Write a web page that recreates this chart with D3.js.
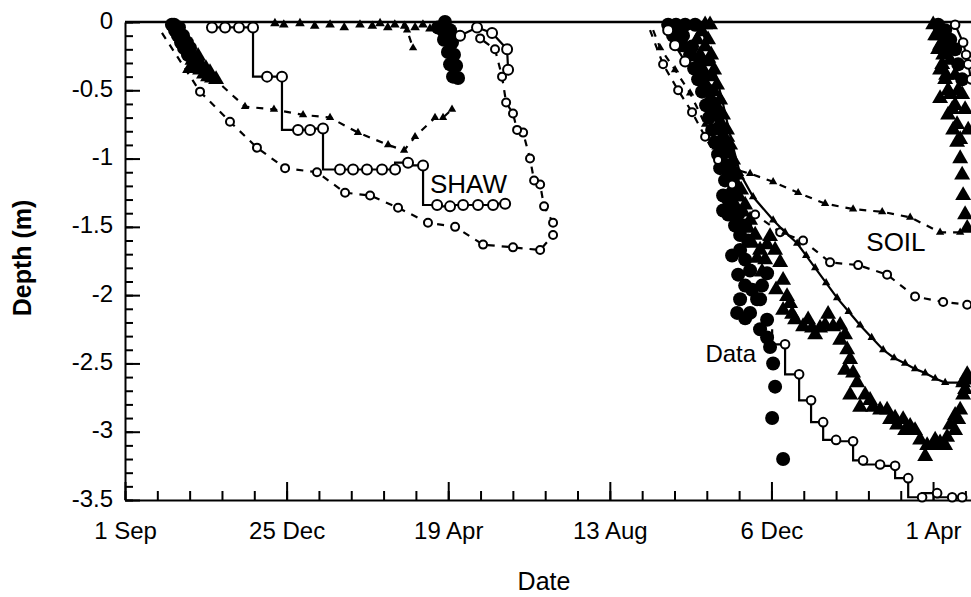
<!DOCTYPE html>
<html><head><meta charset="utf-8">
<script src="https://cdn.jsdelivr.net/npm/d3@7"></script>
<style>body{margin:0;background:#fff} svg{display:block} text{font-family:Arial,"Liberation Sans",sans-serif;fill:#000}</style>
</head><body><svg id="c" width="971" height="597"></svg>
<script>
// ---- axis ticks (x in days since 1 Sep, y depth in m) ----
const xTickDays = [0, 115, 230, 345, 460, 575];
const xTickLabels = ["1 Sep", "25 Dec", "19 Apr", "13 Aug", "6 Dec", "1 Apr"];
const yTickValues = [0, -0.5, -1, -1.5, -2, -2.5, -3, -3.5];
const yTickLabels = ["0", "-0.5", "-1", "-1.5", "-2", "-2.5", "-3", "-3.5"];

// ---- SHAW model (solid line, open circles) ----
const shawFreeze1 = [[61.9,-0.04],[71.2,-0.04],[81.1,-0.04],[91.1,-0.04],[101.1,-0.40],[111.7,-0.40],[123.1,-0.79],[131.7,-0.79],[140.9,-0.78],[153.0,-1.08],[162.3,-1.08],[172.2,-1.08],[182.9,-1.08],[192.2,-1.08],[201.4,-1.03],[212.1,-1.05],[222.1,-1.34],[231.3,-1.35],[240.6,-1.34],[251.2,-1.34],[261.9,-1.34],[270.5,-1.33]];
const shawThaw1 = [[225.0,-0.08],[238.4,-0.10],[250.5,-0.04],[261.2,-0.08],[271.9,-0.20],[272.6,-0.35]];
const shawThaw2a = [[382.9,-0.02],[386.5,-0.06],[391.4,-0.17],[398.6,-0.29]];
const shawStep2 = [[460.5,-2.25],[469.7,-2.36],[479.7,-2.58],[488.2,-2.77],[496.8,-2.93],[506.0,-3.06],[518.1,-3.07],[525.2,-3.21],[537.3,-3.24],[548.0,-3.25],[557.3,-3.34],[567.2,-3.48],[577.9,-3.45],[588.6,-3.48],[595.7,-3.48]];
const shawThaw2b = [[590.7,-0.02],[596.4,-0.15],[598.5,-0.24],[600.0,-0.31],[602.1,-0.42]];
// ---- SHAW model second site (solid line, small triangles) ----
const shawTri2 = [[409.2,-0.02],[417.8,-0.28],[424.9,-0.57],[431.3,-0.86],[437.7,-1.11],[446.9,-1.28],[461.2,-1.45],[469.7,-1.54],[478.3,-1.62],[484.7,-1.71],[491.1,-1.80],[498.9,-1.91],[506.7,-2.02],[514.9,-2.12],[523.1,-2.22],[531.3,-2.31],[539.5,-2.40],[547.3,-2.46],[555.1,-2.50],[562.2,-2.54],[569.4,-2.57],[576.5,-2.61],[583.6,-2.64],[594.3,-2.64],[601.4,-2.61]];

// ---- SOIL model (dashed line) ----
const soilCirc1 = [[26.3,-0.08],[53.4,-0.51],[74.7,-0.73],[93.9,-0.92],[113.9,-1.07],[136.6,-1.10],[156.6,-1.25],[174.4,-1.27],[194.3,-1.36],[215.6,-1.47],[234.9,-1.50],[254.8,-1.63],[276.1,-1.65],[295.4,-1.67],[304.6,-1.56],[304.6,-1.47],[298.2,-1.35],[295.4,-1.19],[291.1,-1.16],[288.2,-1.00],[283.3,-0.81],[279.0,-0.79],[276.1,-0.67],[271.2,-0.59],[268.3,-0.40],[263.3,-0.20],[252.7,-0.12]];
const soilTri1 = [[61.9,-0.40],[85.4,-0.62],[106.0,-0.64],[126.7,-0.68],[145.9,-0.70],[165.8,-0.81],[187.2,-0.90],[198.6,-0.94],[206.4,-0.84],[220.6,-0.70],[226.3,-0.70],[232.7,-0.64]];
const soilTriThaw1 = [[197.8,-0.01],[200.7,-0.06],[205.0,-0.19]];
const soilCirc2 = [[373.6,-0.06],[382.9,-0.31],[393.6,-0.50],[403.5,-0.66],[412.8,-0.84],[422.0,-1.01],[432.0,-1.19],[448.4,-1.41],[466.2,-1.54],[482.5,-1.60],[501.7,-1.76],[521.7,-1.78],[542.3,-1.85],[562.2,-2.01],[582.2,-2.05],[599.3,-2.07]];
const soilTri2 = [[375.8,-0.06],[380.8,-0.19],[391.4,-0.35],[402.1,-0.52],[412.8,-0.75],[421.3,-0.94],[434.1,-1.08],[444.8,-1.11],[461.2,-1.17],[479.0,-1.25],[498.2,-1.33],[518.1,-1.37],[538.8,-1.39],[558.7,-1.43],[580.0,-1.54],[594.3,-1.54]];

// ---- measured data (filled symbols) ----
const dataCirc = [
 [33.4,-0.02],[34.9,-0.02],[35.6,-0.06],[38.4,-0.04],[37.7,-0.10],[41.3,-0.10],[39.9,-0.15],[44.1,-0.15],[42.0,-0.19],[46.3,-0.19],[44.8,-0.24],[47.7,-0.26],[49.8,-0.29],
 [227.7,0],[222.8,-0.04],[226.3,-0.06],[231.3,-0.06],[227.0,-0.13],[232.7,-0.15],[229.8,-0.22],[234.1,-0.24],[231.3,-0.31],[235.6,-0.32],[233.4,-0.40],[237.0,-0.41],
 [386.5,-0.02],[392.1,-0.02],[398.6,-0.02],[405.7,-0.02],[390.0,-0.10],[397.1,-0.10],[396.4,-0.17],[403.5,-0.18],[402.1,-0.24],[409.2,-0.28],[405.0,-0.34],[411.4,-0.39],[407.8,-0.42],[414.9,-0.50],[410.6,-0.51],[417.8,-0.59],[413.5,-0.61],[420.6,-0.68],[415.6,-0.70],[423.5,-0.78],[417.8,-0.79],[425.6,-0.86],[419.9,-0.88],[428.4,-0.95],[422.0,-0.97],[430.6,-1.05],[423.5,-1.07],[432.7,-1.14],[427.0,-1.16],[434.1,-1.23],[425.6,-1.27],[429.2,-1.30],[430.6,-1.34],[425.6,-1.38],[429.2,-1.41],[436.3,-1.41],[434.1,-1.49],[441.3,-1.49],[437.7,-1.56],[443.4,-1.60],[437.7,-1.67],[432.0,-1.71],[441.3,-1.74],[444.8,-1.82],[436.3,-1.85],[456.9,-1.84],[441.3,-1.93],[453.3,-1.93],[446.2,-1.96],[449.8,-2.03],[437.7,-2.03],[451.9,-2.03],[435.6,-2.13],[444.8,-2.13],[441.3,-2.17],[456.9,-2.18],[451.9,-2.25],[456.9,-2.31],[459.0,-2.38],[461.2,-2.50],[462.6,-2.67],[460.5,-2.90],[468.3,-3.20],
 [578.6,-0.02],[583.6,-0.06],[587.2,-0.13],[583.6,-0.20],[585.7,-0.13],[590.7,-0.20],[592.9,-0.31],[595.7,-0.42]
];
const dataTriSurface = [[106.7,-0.01],[113.0,-0.02],[124.5,-0.01],[135.0,-0.03],[145.9,-0.02],[156.0,-0.04],[167.2,-0.02],[176.0,-0.03],[181.5,-0.01],[187.0,-0.04],[192.0,-0.02],[199.0,-0.03],[206.4,-0.04],[212.0,-0.02],[217.0,-0.05],[222.0,-0.03]];
const dataTri = [
 [50.5,-0.32],[53.4,-0.35],[56.2,-0.38],[59.1,-0.40],[61.9,-0.41],[64.8,-0.42],[54.1,-0.31],[57.6,-0.34],[60.5,-0.37],[46.3,-0.34],[48.0,-0.28],[52.0,-0.25],
 [412.8,-0.02],[416.3,-0.02],[407.1,-0.13],[414.9,-0.13],[409.2,-0.24],[417.1,-0.24],[411.4,-0.35],[419.2,-0.35],[413.5,-0.46],[421.3,-0.46],[415.6,-0.57],[423.5,-0.57],[417.8,-0.68],[425.6,-0.68],[420.6,-0.79],[428.4,-0.79],[422.8,-0.90],[430.6,-0.90],[425.6,-1.01],[432.7,-1.01],[428.4,-1.12],[435.6,-1.12],[431.3,-1.23],[438.4,-1.23],[434.1,-1.34],[441.3,-1.34],[444.8,-1.45],[448.4,-1.56],[451.9,-1.67],
 [410.6,-0.07],[412.8,-0.18],[414.9,-0.29],[417.1,-0.40],[419.2,-0.51],[421.3,-0.62],[423.5,-0.73],[426.3,-0.84],[428.4,-0.95],[431.3,-1.06],[434.1,-1.17],[436.9,-1.28],[439.8,-1.39],[443.4,-1.51],[446.2,-1.62],[449.8,-1.73],[453.3,-1.83],[456.9,-1.63],[455.5,-1.74],
 [459.0,-1.57],[462.6,-1.67],[466.2,-1.76],[468.3,-1.89],[463.3,-1.96],[471.1,-2.01],[473.3,-2.06],[468.3,-2.11],[474.7,-2.14],[476.8,-2.18],[482.5,-2.23],[486.1,-2.18],[488.9,-2.24],[491.1,-2.29],[494.6,-2.24],[498.2,-2.22],[503.9,-2.23],[500.3,-2.14],[508.9,-2.22],[508.9,-2.33],[512.4,-2.29],[513.9,-2.40],[516.0,-2.47],[512.4,-2.55],[518.1,-2.57],[521.0,-2.64],[516.0,-2.73],[526.7,-2.73],[530.2,-2.77],[523.1,-2.82],[532.3,-2.82],[537.3,-2.84],[542.3,-2.84],[544.4,-2.91],[548.0,-2.90],[549.4,-2.95],[553.7,-2.91],[555.1,-2.99],[558.7,-2.96],[562.2,-2.99],[565.8,-3.06],[569.4,-3.18],[570.8,-3.10],[575.1,-3.10],[576.5,-3.06],[580.0,-3.08],[583.6,-3.10],[585.0,-3.04],[587.2,-2.95],[590.7,-2.99],[590.7,-2.88],[592.9,-2.91],[594.3,-2.84],[596.4,-2.73],[597.8,-2.69],[596.4,-2.64],[600.0,-2.62],[599.3,-2.58],
 [575.1,-0.02],[577.9,-0.10],[576.5,-0.10],[580.0,-0.17],[578.6,-0.20],[582.2,-0.24],[581.5,-0.31],[580.0,-0.35],[584.3,-0.39],[583.6,-0.42],[580.0,-0.56],[585.7,-0.50],[587.2,-0.53],[585.7,-0.68],[588.6,-0.64],[590.7,-0.61],[592.9,-0.50],[589.3,-0.79],[592.1,-0.75],[592.1,-0.88],[594.3,-0.86],[594.3,-1.00],[595.7,-1.12],[596.4,-1.27],[597.8,-1.41],[599.3,-1.51],[587.2,-0.28],[590.7,-0.39],[595.7,-0.53],[597.8,-0.64],[600.0,-0.79]
];

// ---- annotations (data coordinates) ----
const labels = [
  {text: "SHAW", day: 217, depth: -1.25},
  {text: "SOIL", day: 527.5, depth: -1.68},
  {text: "Data", day: 413, depth: -2.49}
];

// ================= drawing =================
const W = 971, H = 597;
const x = d3.scaleLinear().domain([0, 602]).range([125, 971]);
const y = d3.scaleLinear().domain([-3.5, 0]).range([500, 22]);
const svg = d3.select("#c");
svg.append("rect").attr("width", W).attr("height", H).attr("fill", "#fff");

// minor ticks
svg.append("g").attr("transform", `translate(0,${y(-3.5)})`)
  .call(d3.axisBottom(x).tickValues(d3.range(0, 602, 23)).tickSizeInner(-9).tickSizeOuter(0).tickFormat(""))
  .call(g => g.select(".domain").remove())
  .call(g => g.selectAll("line").attr("stroke-width", 2));
svg.append("g").attr("transform", `translate(${x(0)},0)`)
  .call(d3.axisLeft(y).tickValues(d3.range(0, 36).map(i => -i / 10)).tickSizeInner(-8).tickSizeOuter(0).tickFormat(""))
  .call(g => g.select(".domain").remove())
  .call(g => g.selectAll("line").attr("stroke-width", 2));

// major axes
svg.append("g").attr("transform", `translate(0,${y(-3.5)})`)
  .call(d3.axisBottom(x).tickValues(xTickDays).tickSizeInner(-18).tickSizeOuter(0).tickPadding(22)
    .tickFormat((d, i) => xTickLabels[i]))
  .call(g => g.select(".domain").attr("stroke-width", 2))
  .call(g => g.selectAll("line").attr("stroke-width", 2))
  .call(g => g.selectAll("text").attr("font-size", 24).attr("font-family", "Arial, 'Liberation Sans', sans-serif"));
svg.append("g").attr("transform", `translate(${x(0)},0)`)
  .call(d3.axisLeft(y).tickValues(yTickValues).tickSizeInner(-15).tickSizeOuter(0).tickPadding(12)
    .tickFormat((d, i) => yTickLabels[i]))
  .call(g => g.select(".domain").attr("stroke-width", 2))
  .call(g => g.selectAll("line").attr("stroke-width", 2))
  .call(g => g.selectAll("text").attr("font-size", 24).attr("dy", "0.25em").attr("font-family", "Arial, 'Liberation Sans', sans-serif"));
// zero line (top)
svg.append("line").attr("x1", x(0)).attr("x2", W).attr("y1", y(0)).attr("y2", y(0))
  .attr("stroke", "#000").attr("stroke-width", 2.5);

// axis titles
svg.append("text").attr("x", 544).attr("y", 590).attr("text-anchor", "middle").attr("font-size", 25).text("Date");
svg.append("text").attr("transform", "translate(31,258) rotate(-90)").attr("text-anchor", "middle")
  .attr("font-size", 25).attr("font-weight", "bold").text("Depth (m)");

const plot = svg.append("g");
const tri = d3.symbol().type(d3.symbolTriangle);

// measured data
plot.append("g").selectAll("circle").data(dataCirc).join("circle")
  .attr("cx", d => x(d[0])).attr("cy", d => y(d[1])).attr("r", 7).attr("fill", "#000");
plot.append("g").selectAll("path").data(dataTri).join("path")
  .attr("transform", d => `translate(${x(d[0])},${y(d[1])})`).attr("d", tri.size(110)()).attr("fill", "#000");
plot.append("g").selectAll("path").data(dataTriSurface).join("path")
  .attr("transform", d => `translate(${x(d[0])},${y(d[1])})`).attr("d", tri.size(40)()).attr("fill", "#000");

const line = d3.line().x(d => x(d[0])).y(d => y(d[1]));
function drawLine(data, dashed, curve) {
  plot.append("path").datum(data).attr("fill", "none").attr("stroke", "#000").attr("stroke-width", 2.2)
    .attr("stroke-dasharray", dashed ? "7,7" : null)
    .attr("d", line.curve(curve || d3.curveLinear));
}
function drawCircles(data, skipFirst, r) {
  plot.append("g").selectAll("circle").data(skipFirst ? data.slice(1) : data).join("circle")
    .attr("cx", d => x(d[0])).attr("cy", d => y(d[1])).attr("r", r || 4.3)
    .attr("fill", "#fff").attr("stroke", "#000").attr("stroke-width", 2);
}
function drawSmallTri(data, skipFirst) {
  plot.append("g").selectAll("path").data(skipFirst ? data.slice(1) : data).join("path")
    .attr("transform", d => `translate(${x(d[0])},${y(d[1])})`).attr("d", tri.size(30)()).attr("fill", "#000");
}

// SOIL (dashed)
drawLine(soilCirc1, true); drawCircles(soilCirc1, true, 4);
drawLine(soilTri1, true); drawSmallTri(soilTri1, true);
drawLine(soilTriThaw1, true); drawSmallTri(soilTriThaw1, true);
drawLine(soilCirc2, true); drawCircles(soilCirc2, true, 4);
drawLine(soilTri2, true); drawSmallTri(soilTri2, true);

// SHAW (solid)
drawLine(shawTri2, false); drawSmallTri(shawTri2, true);
drawLine(shawFreeze1, false, d3.curveStepBefore); drawCircles(shawFreeze1, false, 5);
drawLine(shawThaw1, false); drawCircles(shawThaw1, true, 5);
drawLine(shawThaw2a, false); drawCircles(shawThaw2a, true, 5);
drawLine(shawStep2, false, d3.curveStepBefore); drawCircles(shawStep2, true, 4.3);
drawLine(shawThaw2b, false); drawCircles(shawThaw2b, false, 4.3);

// labels
svg.selectAll(".lbl").data(labels).join("text")
  .attr("x", d => x(d.day)).attr("y", d => y(d.depth)).attr("font-size", d => d.text === "Data" ? 24 : 26)
  .text(d => d.text);
</script></body></html>
